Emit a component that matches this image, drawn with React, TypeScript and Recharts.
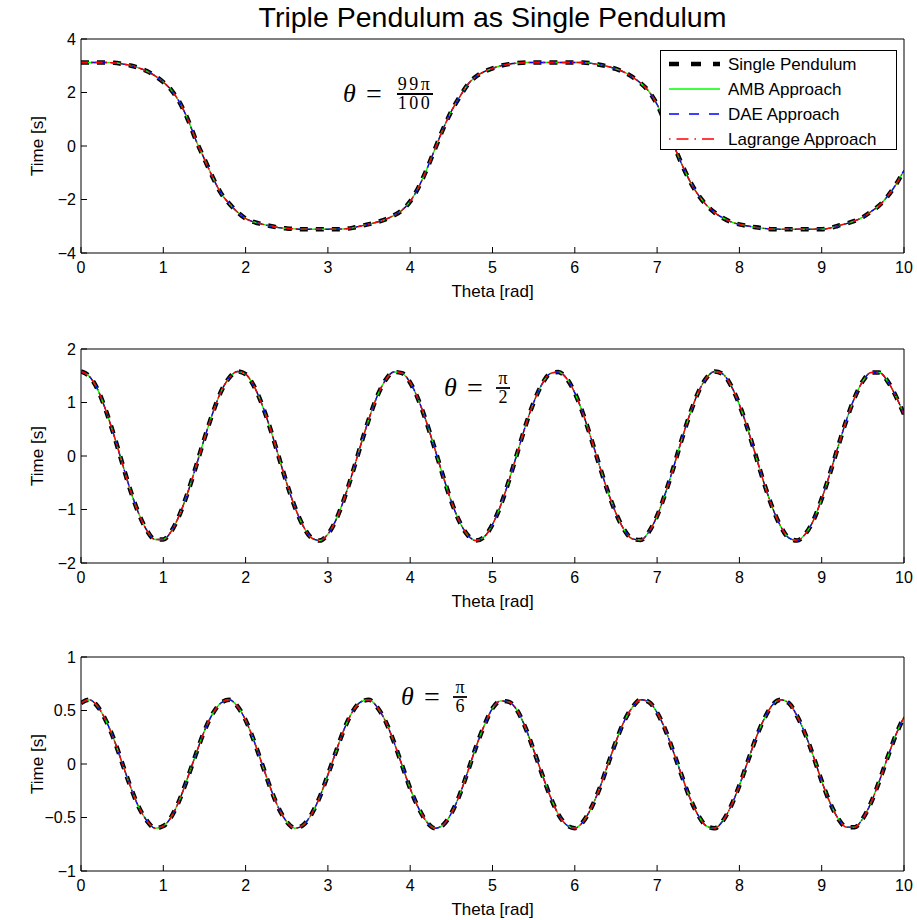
import { LineChart, Line, XAxis, YAxis, Legend } from 'recharts'

// theta grid (rad), read every 0.1
const thetaRad = [
  0, 0.1, 0.2, 0.3, 0.4, 0.5, 0.6, 0.7, 0.8, 0.9,
  1, 1.1, 1.2, 1.3, 1.4, 1.5, 1.6, 1.7, 1.8, 1.9,
  2, 2.1, 2.2, 2.3, 2.4, 2.5, 2.6, 2.7, 2.8, 2.9,
  3, 3.1, 3.2, 3.3, 3.4, 3.5, 3.6, 3.7, 3.8, 3.9,
  4, 4.1, 4.2, 4.3, 4.4, 4.5, 4.6, 4.7, 4.8, 4.9,
  5, 5.1, 5.2, 5.3, 5.4, 5.5, 5.6, 5.7, 5.8, 5.9,
  6, 6.1, 6.2, 6.3, 6.4, 6.5, 6.6, 6.7, 6.8, 6.9,
  7, 7.1, 7.2, 7.3, 7.4, 7.5, 7.6, 7.7, 7.8, 7.9,
  8, 8.1, 8.2, 8.3, 8.4, 8.5, 8.6, 8.7, 8.8, 8.9,
  9, 9.1, 9.2, 9.3, 9.4, 9.5, 9.6, 9.7, 9.8, 9.9,
  10,
]

// theta0 = 99pi/100
const timeNearPi = [
  3.12, 3.12, 3.12, 3.12, 3.11, 3.07, 3.01, 2.92, 2.8, 2.62,
  2.39, 2.08, 1.62, 0.98, 0.19, -0.49, -1.17, -1.76, -2.15, -2.47,
  -2.71, -2.84, -2.92, -2.99, -3.05, -3.08, -3.1, -3.11, -3.11, -3.11,
  -3.11, -3.11, -3.1, -3.06, -2.99, -2.92, -2.84, -2.74, -2.6, -2.4,
  -2.07, -1.55, -0.88, -0.12, 0.64, 1.3, 1.83, 2.3, 2.6, 2.78,
  2.9, 3.0, 3.06, 3.1, 3.12, 3.12, 3.12, 3.12, 3.12, 3.12,
  3.12, 3.12, 3.09, 3.04, 2.97, 2.88, 2.76, 2.58, 2.35, 2.04,
  1.55, 0.85, 0.05, -0.68, -1.32, -1.83, -2.21, -2.49, -2.69, -2.84,
  -2.93, -2.99, -3.04, -3.08, -3.11, -3.11, -3.11, -3.11, -3.11, -3.11,
  -3.11, -3.07, -2.98, -2.9, -2.8, -2.66, -2.45, -2.22, -1.88, -1.45,
  -0.91,
]

// theta0 = pi/2
const timeHalfPi = [
  1.58, 1.49, 1.25, 0.86, 0.39, -0.13, -0.64, -1.07, -1.39, -1.56,
  -1.56, -1.4, -1.09, -0.67, -0.18, 0.33, 0.8, 1.2, 1.46, 1.58,
  1.53, 1.31, 0.96, 0.51, 0.0, -0.51, -0.96, -1.31, -1.53, -1.58,
  -1.46, -1.19, -0.79, -0.31, 0.21, 0.7, 1.12, 1.42, 1.57, 1.55,
  1.37, 1.05, 0.62, 0.13, -0.38, -0.85, -1.23, -1.48, -1.58, -1.51,
  -1.28, -0.92, -0.46, 0.05, 0.56, 1.0, 1.34, 1.54, 1.57, 1.45,
  1.18, 0.79, 0.32, -0.18, -0.66, -1.07, -1.38, -1.55, -1.57, -1.42,
  -1.12, -0.7, -0.21, 0.31, 0.79, 1.19, 1.46, 1.58, 1.53, 1.31,
  0.96, 0.51, 0.0, -0.51, -0.96, -1.31, -1.53, -1.58, -1.46, -1.2,
  -0.8, -0.33, 0.18, 0.67, 1.09, 1.4, 1.56, 1.56, 1.4, 1.12,
  0.78,
]

// theta0 = pi/6
const timeSixthPi = [
  0.57, 0.6, 0.54, 0.41, 0.23, 0.01, -0.21, -0.4, -0.53, -0.6,
  -0.58, -0.49, -0.33, -0.12, 0.1, 0.31, 0.47, 0.57, 0.6, 0.54,
  0.41, 0.22, 0.0, -0.22, -0.41, -0.54, -0.6, -0.57, -0.47, -0.31,
  -0.1, 0.12, 0.33, 0.49, 0.58, 0.6, 0.53, 0.4, 0.21, -0.01,
  -0.23, -0.41, -0.54, -0.6, -0.57, -0.46, -0.29, -0.07, 0.16, 0.36,
  0.52, 0.59, 0.58, 0.5, 0.34, 0.13, -0.09, -0.3, -0.47, -0.57,
  -0.6, -0.54, -0.41, -0.23, -0.01, 0.21, 0.4, 0.53, 0.6, 0.58,
  0.48, 0.32, 0.11, -0.11, -0.32, -0.48, -0.58, -0.6, -0.53, -0.39,
  -0.2, 0.02, 0.24, 0.42, 0.55, 0.6, 0.57, 0.45, 0.28, 0.07,
  -0.16, -0.36, -0.51, -0.59, -0.59, -0.51, -0.36, -0.16, 0.06, 0.27,
  0.44,
]

const xTicks = [0, 1, 2, 3, 4, 5, 6, 7, 8, 9, 10]
const yTicksTop = [-4, -2, 0, 2, 4]
const yTicksMid = [-2, -1, 0, 1, 2]
const yTicksBottom = [-1, -0.5, 0, 0.5, 1]

const seriesKeys = ['single', 'amb', 'dae', 'lagrange']
const seriesNames = ['Single Pendulum', 'AMB Approach', 'DAE Approach', 'Lagrange Approach']
const seriesColors = ['#000000', '#00ff00', '#0000ff', '#ff0000']

const lineStyle: Record<string, { width: number; dash?: string; legendDash?: string }> = {
  single: { width: 4.5, dash: '8 8', legendDash: '10 12' },
  amb: { width: 1.4 },
  dae: { width: 1.4, dash: '6 4', legendDash: '10 10' },
  lagrange: { width: 1.4, dash: '7 3 1.5 3', legendDash: '1.5 6 12 6' },
}

const FONT = '"Liberation Sans", Arial, Helvetica, sans-serif'
const MATH = '"Liberation Serif", "DejaVu Serif", serif'

const minus = (v: number) => String(v).replace('-', '\u2212')

function LegendBox({ payload }: any) {
  const items = [...(payload || [])].sort(
    (a: any, b: any) => seriesNames.indexOf(a.value) - seriesNames.indexOf(b.value),
  )
  return (
    <svg width={237} height={100} style={{ display: 'block' }}>
      <rect x={0.5} y={0.5} width={236} height={99} fill="#fff" stroke="#000" />
      {items.map((p: any, i: number) => {
        const key = seriesKeys[seriesNames.indexOf(p.value)]
        const st = lineStyle[key] || { width: 1.4 }
        const cy = 14 + i * 25
        return (
          <g key={p.value}>
            <line x1={9} x2={60} y1={cy} y2={cy} stroke={p.color} strokeWidth={st.width}
              strokeDasharray={st.legendDash} />
            <text x={68} y={cy + 6} fontSize={17} fill="#000" fontFamily={FONT}>{p.value}</text>
          </g>
        )
      })}
    </svg>
  )
}

function Formula({ x, y, num, den, spread }: { x: number; y: number; num: string; den: string; spread: number }) {
  // theta = num/den, y is the fraction bar height
  const fx = x + spread
  const wide = num.length > 1
  return (
    <g fontFamily={MATH} fill="#000">
      <text x={x} y={y + 8} fontSize={26} fontStyle="italic">θ</text>
      <text x={x + 23} y={y + 9} fontSize={28}>=</text>
      <text x={fx} y={y - 4} fontSize={18} textAnchor="middle" letterSpacing={wide ? 2.5 : 0}>{num}</text>
      <line x1={fx - (wide ? 18 : 7)} x2={fx + (wide ? 18 : 7)} y1={y} y2={y} stroke="#000" strokeWidth={1.8} />
      <text x={fx} y={y + 15} fontSize={18} textAnchor="middle" letterSpacing={den.length > 1 ? 2.5 : 0}>{den}</text>
    </g>
  )
}

type PanelProps = {
  top: number
  values: number[]
  yTicks: number[]
  formula: { x: number; y: number; num: string; den: string; spread: number }
  legend?: boolean
}

function Panel({ top, values, yTicks, formula, legend }: PanelProps) {
  const rows = thetaRad.map((x, i) => ({
    x,
    single: values[i],
    amb: values[i],
    dae: values[i],
    lagrange: values[i],
  }))
  const domain: [number, number] = [yTicks[0], yTicks[yTicks.length - 1]]
  return (
    <div style={{ position: 'absolute', left: 0, top, width: 917, height: 302 }}>
      <LineChart width={917} height={302} data={rows} margin={{ top: 38, right: 12, bottom: 19, left: 41 }}>
        <XAxis
          dataKey="x"
          type="number"
          domain={[0, 10]}
          ticks={xTicks}
          allowDataOverflow
          height={30}
          tick={{ fontSize: 16, fill: '#000' }}
          tickSize={-6}
          tickMargin={15}
          axisLine={{ stroke: '#000' }}
          tickLine={{ stroke: '#000' }}
          label={{ value: 'Theta [rad]', position: 'bottom', offset: 2, fontSize: 17, fill: '#000' }}
        />
        <XAxis
          xAxisId="top"
          orientation="top"
          dataKey="x"
          type="number"
          domain={[0, 10]}
          ticks={xTicks}
          allowDataOverflow
          height={1}
          tick={false}
          tickSize={-6}
          axisLine={{ stroke: '#000' }}
          tickLine={{ stroke: '#000' }}
        />
        <YAxis
          type="number"
          domain={domain}
          ticks={yTicks}
          allowDataOverflow
          width={40}
          tick={{ fontSize: 16, fill: '#000' }}
          tickFormatter={minus}
          tickSize={-6}
          tickMargin={11}
          axisLine={{ stroke: '#000' }}
          tickLine={{ stroke: '#000' }}
          label={{ value: 'Time [s]', angle: -90, position: 'insideLeft', offset: -4, fontSize: 17, fill: '#000', style: { textAnchor: 'middle' } }}
        />
        <YAxis
          yAxisId="right"
          orientation="right"
          type="number"
          domain={domain}
          ticks={yTicks}
          allowDataOverflow
          width={1}
          tick={false}
          tickSize={-6}
          axisLine={{ stroke: '#000' }}
          tickLine={{ stroke: '#000' }}
        />
        {seriesKeys.map((k, i) => (
          <Line
            key={k}
            dataKey={k}
            name={seriesNames[i]}
            type="monotone"
            stroke={seriesColors[i]}
            strokeWidth={lineStyle[k].width}
            strokeDasharray={lineStyle[k].dash}
            dot={false}
            activeDot={false}
            isAnimationActive={false}
          />
        ))}
        {legend && (
          <Legend
            layout="horizontal"
            verticalAlign="middle"
            align="center"
            content={<LegendBox />}
            wrapperStyle={{ left: 660, top: 50, width: 237, height: 100 }}
          />
        )}
      </LineChart>
      <svg width={917} height={302} style={{ position: 'absolute', left: 0, top: 0, pointerEvents: 'none' }}>
        <Formula {...formula} />
      </svg>
    </div>
  )
}

export default function App() {
  return (
    <div style={{ position: 'absolute', left: 0, top: 0, width: 917, height: 920, background: '#fff', fontFamily: FONT }}>
      <div style={{ position: 'absolute', left: 81, top: 3, width: 823, textAlign: 'center', fontSize: 28.5, lineHeight: '29px', color: '#000' }}>
        Triple Pendulum as Single Pendulum
      </div>
      <Panel top={0} values={timeNearPi} yTicks={yTicksTop} legend
        formula={{ x: 343, y: 94, num: '99π', den: '100', spread: 72 }} />
      <Panel top={310} values={timeHalfPi} yTicks={yTicksMid}
        formula={{ x: 444, y: 78, num: 'π', den: '2', spread: 59 }} />
      <Panel top={618} values={timeSixthPi} yTicks={yTicksBottom}
        formula={{ x: 401, y: 79, num: 'π', den: '6', spread: 59 }} />
    </div>
  )
}
